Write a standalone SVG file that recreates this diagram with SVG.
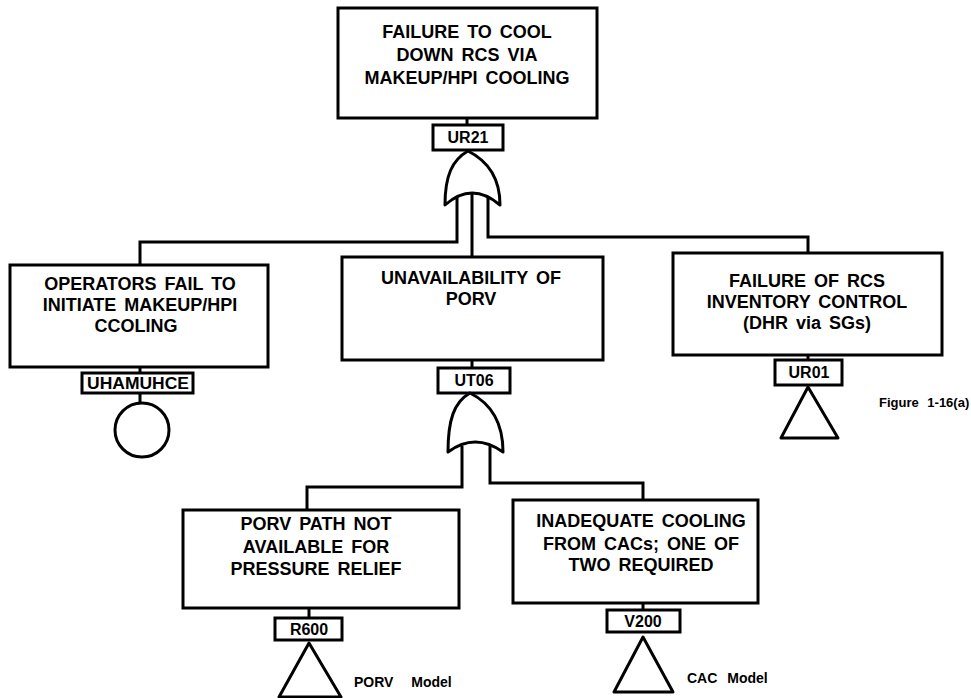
<svg xmlns="http://www.w3.org/2000/svg" width="971" height="698" viewBox="0 0 971 698">
  <style>
    .box { fill: #fff; stroke: #000; stroke-width: 3; }
    .tag { fill: #fff; stroke: #000; stroke-width: 3; }
    .wire { fill: none; stroke: #000; stroke-width: 3; stroke-linejoin: miter; }
    .gate { fill: #fff; stroke: #000; stroke-width: 3; stroke-linejoin: round; }
    .t { font-family: "Liberation Sans", Arial, sans-serif; font-weight: bold; font-size: 18px; text-anchor: middle; word-spacing: 3px; fill: #000; }
    .tl { font-family: "Liberation Sans", Arial, sans-serif; font-weight: bold; font-size: 16px; text-anchor: middle; fill: #000; }
    .note { font-family: "Liberation Sans", Arial, sans-serif; font-weight: bold; fill: #000; }
  </style>
  <rect width="971" height="698" fill="#fff"/>

  <!-- connectors -->
  <g id="connectors">
    <!-- top event to its tag -->
    <path class="wire" d="M467,118 V125"/>
    <!-- UR21 OR gate outputs -->
    <path class="wire" d="M457,198 V242 H140 V265"/>
    <path class="wire" d="M472,193 V257"/>
    <path class="wire" d="M488,198 V237 H808 V253"/>
    <!-- tag stubs -->
    <path class="wire" d="M140,367 V373"/>
    <path class="wire" d="M140,393 V403"/>
    <path class="wire" d="M472,360 V368"/>
    <path class="wire" d="M808,355 V360"/>
    <!-- UT06 OR gate outputs -->
    <path class="wire" d="M462,446 V487 H307 V510"/>
    <path class="wire" d="M490,446 V483 H643 V500"/>
    <path class="wire" d="M309,608 V618"/>
    <path class="wire" d="M643,603 V610"/>
  </g>

  <!-- top event -->
  <g id="UR21">
    <rect class="box" x="338" y="8" width="259" height="110"/>
    <text class="t" x="467" y="38">FAILURE TO COOL</text>
    <text class="t" x="467" y="61">DOWN RCS VIA</text>
    <text class="t" x="467" y="84">MAKEUP/HPI COOLING</text>
    <rect class="tag" x="433" y="125" width="70" height="25"/>
    <text class="tl" x="468" y="143">UR21</text>
    <path class="gate" d="M468,151 C486,160 500,176 500,205 Q472,181 445,205 C445,176 452,160 468,151 Z"/>
  </g>

  <!-- operator action basic event -->
  <g id="UHAMUHCE">
    <rect class="box" x="10" y="265" width="258" height="102"/>
    <text class="t" x="140" y="290">OPERATORS FAIL TO</text>
    <text class="t" x="140" y="311">INITIATE MAKEUP/HPI</text>
    <text class="t" x="136" y="332">CCOLING</text>
    <rect class="tag" x="82" y="373" width="111" height="20"/>
    <text class="tl" x="138" y="389" style="font-size:17px" textLength="102" lengthAdjust="spacingAndGlyphs">UHAMUHCE</text>
    <circle cx="142" cy="430" r="27" fill="#fff" stroke="#000" stroke-width="3"/>
  </g>

  <!-- PORV unavailability -->
  <g id="UT06">
    <rect class="box" x="342" y="257" width="261" height="103"/>
    <text class="t" x="471" y="284">UNAVAILABILITY OF</text>
    <text class="t" x="471" y="305">PORV</text>
    <rect class="tag" x="438" y="368" width="72" height="25"/>
    <text class="tl" x="474" y="386">UT06</text>
    <path class="gate" d="M470,393 C488,402 503,420 503,452 Q475,432 448,452 C448,420 454,402 470,393 Z"/>
  </g>

  <!-- RCS inventory control transfer -->
  <g id="UR01">
    <rect class="box" x="673" y="253" width="269" height="102"/>
    <text class="t" x="807" y="287">FAILURE OF RCS</text>
    <text class="t" x="807" y="308">INVENTORY CONTROL</text>
    <text class="t" x="807" y="329">(DHR via SGs)</text>
    <rect class="tag" x="775" y="360" width="67" height="25"/>
    <text class="tl" x="809" y="378">UR01</text>
    <polygon class="gate" points="808,387 838,438 781,438"/>
    <text class="note" x="879" y="407" style="font-size:13px; word-spacing:5px">Figure 1-16(a)</text>
  </g>

  <!-- PORV path transfer -->
  <g id="R600">
    <rect class="box" x="183" y="510" width="276" height="98"/>
    <text class="t" x="316" y="530">PORV PATH NOT</text>
    <text class="t" x="316" y="553">AVAILABLE FOR</text>
    <text class="t" x="316" y="575">PRESSURE RELIEF</text>
    <rect class="tag" x="275" y="618" width="67" height="22"/>
    <text class="tl" x="309" y="635">R600</text>
    <polygon class="gate" points="309,643 341,697 279,697"/>
    <text class="note" x="354" y="687" style="font-size:14px; word-spacing:14px">PORV Model</text>
  </g>

  <!-- CAC cooling transfer -->
  <g id="V200">
    <rect class="box" x="513" y="500" width="245" height="103"/>
    <text class="t" x="641" y="527">INADEQUATE COOLING</text>
    <text class="t" x="641" y="550">FROM CACs; ONE OF</text>
    <text class="t" x="641" y="571">TWO REQUIRED</text>
    <rect class="tag" x="607" y="610" width="73" height="22"/>
    <text class="tl" x="643" y="627">V200</text>
    <polygon class="gate" points="643,637 673,692 614,692"/>
    <text class="note" x="687" y="683" style="font-size:14px; word-spacing:6px">CAC Model</text>
  </g>
</svg>
